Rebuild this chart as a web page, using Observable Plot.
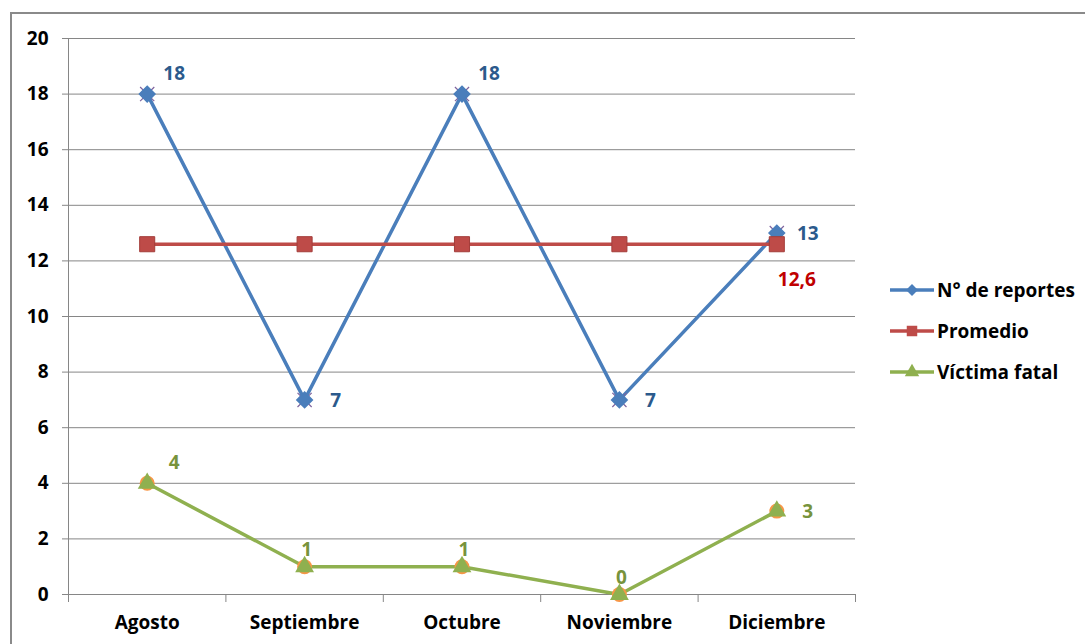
<!DOCTYPE html>
<html><head><meta charset="utf-8">
<script src="https://cdn.jsdelivr.net/npm/d3@7"></script>
<script src="https://cdn.jsdelivr.net/npm/@observablehq/plot@0.6"></script>
<style>
body{margin:0;background:#fff;}
#wrap{position:relative;width:1085px;height:644px;overflow:hidden;font-family:"Open Sans",Lato,sans-serif;}
#frame{position:absolute;left:10px;top:12px;width:1200px;height:800px;border-top:2px solid #8a8a8a;border-left:2px solid #8a8a8a;box-sizing:border-box;}
#chart{position:absolute;left:0;top:0;}
#legend{position:absolute;left:889px;top:280px;font-weight:bold;font-size:19px;color:#000;}
.row{display:flex;align-items:center;height:20px;margin-bottom:21px;}
.row span{margin-left:2px;}
</style>
</head><body>
<div id="wrap"><div id="frame"></div><div id="chart"></div><div id="legend"></div></div>
<script>
const months = ["Agosto","Septiembre","Octubre","Noviembre","Diciembre"];
const reportes = [18,7,18,7,13];
const promedio = [12.6,12.6,12.6,12.6,12.6];
const victimas = [4,1,1,0,3];
const yTicks = [0,2,4,6,8,10,12,14,16,18,20];
const seriesNames = ["N° de reportes","Promedio","Víctima fatal"];
const reportesLabelPos = ["aboveRight","right","aboveRight","right","right"];
const promedioLabelPos = [null,null,null,null,"belowRight"];
const victimasLabelPos = ["aboveRight","above","above","above","right"];

const blue="#4A7EBB", red="#BE4B48", green="#8FB04F", purple="#7E649E", orange="#F79646";
const offsets = {aboveRight:[27,-20], right:[31,1], above:[2,-17], belowRight:[20,36]};
const FS = 19;

const rows = (vals, pos) => vals.map((v,i)=>({i, v, pos: pos[i], label: String(v).replace(".",",")}));
const rep = rows(reportes, reportesLabelPos);
const pro = rows(promedio, promedioLabelPos);
const vic = rows(victimas, victimasLabelPos);
const boundaries = d3.range(months.length+1).map(i=>i-0.5);

function labels(data, color){
  return Object.keys(offsets).map(k => Plot.text(data.filter(d=>d.pos===k), {
    x:"i", y:"v", text:"label", fill:color, dx:offsets[k][0], dy:offsets[k][1],
    fontWeight:"bold", fontSize:FS
  }));
}

const chart = Plot.plot({
  width:1085, height:644,
  marginLeft:68, marginRight:230, marginTop:38, marginBottom:50,
  style:{fontFamily:"'Open Sans', Lato, sans-serif", fontSize:FS+"px", fontWeight:"bold", background:"transparent", overflow:"visible"},
  x:{type:"linear", domain:[-0.5, months.length-0.5]},
  y:{domain:[0,20]},
  marks:[
    Plot.gridY(yTicks, {stroke:"#868686", strokeOpacity:1}),
    Plot.ruleX([-0.5], {stroke:"#868686"}),
    Plot.axisY({ticks:yTicks, tickSize:6, tickPadding:14, stroke:"#868686", fill:"#000", label:null, fontWeight:"bold", fontSize:FS}),
    Plot.axisX({ticks:boundaries, tickSize:8, tickFormat:()=>"", stroke:"#868686", label:null}),
    Plot.axisX({ticks:d3.range(months.length), tickSize:0, tickPadding:21, tickFormat:i=>months[i], fill:"#000", label:null, fontWeight:"bold", fontSize:FS}),
    Plot.line(rep, {x:"i", y:"v", stroke:blue, strokeWidth:3.5}),
    Plot.dot(rep, {x:"i", y:"v", symbol:"times", r:6.5, stroke:purple, strokeWidth:1.2}),
    Plot.dot(rep, {x:"i", y:"v", symbol:"diamond2", r:7, fill:blue, stroke:blue}),
    Plot.line(pro, {x:"i", y:"v", stroke:red, strokeWidth:3.5}),
    Plot.dot(pro, {x:"i", y:"v", symbol:"square", r:8.5, fill:red, stroke:"#A33D3A", strokeWidth:1}),
    Plot.line(vic, {x:"i", y:"v", stroke:green, strokeWidth:3.5}),
    Plot.dot(vic, {x:"i", y:"v", r:7.5, fill:orange}),
    Plot.dot(vic, {x:"i", y:"v", symbol:"triangle", r:7, fill:green}),
    ...labels(rep, "#2B5A8C"),
    ...labels(pro, "#C00000"),
    ...labels(vic, "#77933C")
  ]
});
document.getElementById("chart").appendChild(chart);

// legend
const legendColors = [blue, red, green];
const legendSymbols = [d3.symbolDiamond2, d3.symbolSquare, d3.symbolTriangle];
const leg = d3.select("#legend");
seriesNames.forEach((name, k) => {
  const row = leg.append("div").attr("class","row");
  const s = row.append("svg").attr("width",46).attr("height",20);
  s.append("line").attr("x1",1).attr("x2",45).attr("y1",10).attr("y2",10).attr("stroke",legendColors[k]).attr("stroke-width",3.5);
  s.append("path").attr("transform","translate(23,10)").attr("d", d3.symbol(legendSymbols[k], k===1?110:90)()).attr("fill",legendColors[k]);
  row.append("span").text(name);
});
</script>
</body></html>
